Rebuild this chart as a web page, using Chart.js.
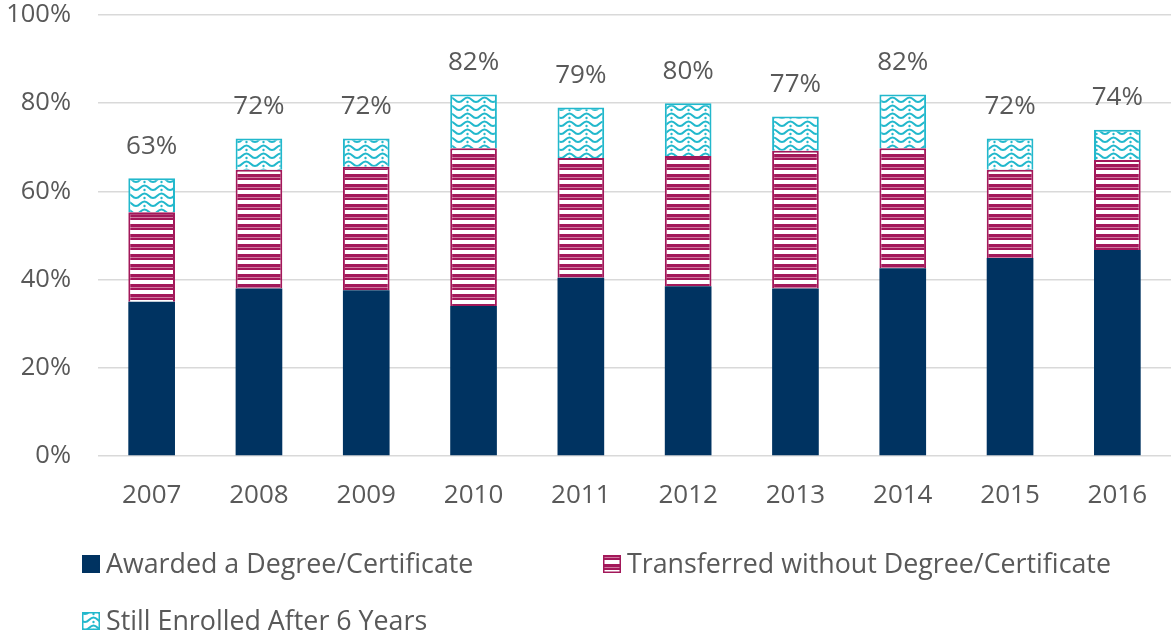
<!DOCTYPE html>
<html>
<head>
<meta charset="utf-8">
<script src="https://cdn.jsdelivr.net/npm/chart.js@4.4.1/dist/chart.umd.min.js"></script>
<style>
  html, body { margin: 0; padding: 0; background: #fff; }
  #wrap { width: 1172px; height: 634px; position: relative; }
</style>
</head>
<body>
<div id="wrap"><canvas id="outcomeChart"></canvas></div>
<script>
// --- dữ liệu ---
const years = ['2007', '2008', '2009', '2010', '2011', '2012', '2013', '2014', '2015', '2016'];
const awarded = [35, 38, 37.6, 34, 40.4, 38.5, 38, 42.6, 44.9, 46.7];
const transferred = [20.3, 26.9, 28, 35.8, 27.2, 29.5, 31.2, 27.2, 20, 20.4];
const stillEnrolled = [7.7, 7.1, 6.4, 12.2, 11.4, 12, 7.8, 12.2, 7.1, 6.9];
const totalLabels = ['63%', '72%', '72%', '82%', '79%', '80%', '77%', '82%', '72%', '74%'];
const yTicks = [0, 20, 40, 60, 80, 100];

const NAVY = '#003361';
const MAGENTA = '#A3185A';
const PINK = '#cf7aa0';
const CYAN = '#22B8CC';
const TEXT = '#595959';
const FONT = "'Open Sans', 'DejaVu Sans', sans-serif";

// Hoa văn sọc ngang (màu đỏ tía)
function stripePattern() {
    const c = document.createElement('canvas');
    c.width = 8; c.height = 10;
    const g = c.getContext('2d');
    g.fillStyle = MAGENTA;
    g.fillRect(0, 0, 8, 10);
    g.fillStyle = '#ffffff';
    g.fillRect(0, 0, 8, 4);
    g.fillStyle = PINK;
    g.fillRect(0, 7, 8, 1);
    return g.createPattern(c, 'repeat');
}

// Hoa văn gợn sóng (xanh ngọc)
function wavePattern() {
    const c = document.createElement('canvas');
    c.width = 17; c.height = 8;
    const g = c.getContext('2d');
    g.fillStyle = '#ffffff';
    g.fillRect(0, 0, 17, 8);
    g.strokeStyle = CYAN;
    g.lineWidth = 2;
    g.beginPath();
    g.moveTo(0, 6);
    g.bezierCurveTo(4, 6, 4.5, 1.5, 8.5, 1.5);
    g.bezierCurveTo(12.5, 1.5, 13, 6, 17, 6);
    g.stroke();
    g.fillStyle = CYAN;
    g.beginPath();
    g.arc(8.5, 6, 1.2, 0, Math.PI * 2);
    g.fill();
    return g.createPattern(c, 'repeat');
}

const stripes = stripePattern();
const waves = wavePattern();

// Nhãn tổng phía trên mỗi cột
const totalLabelPlugin = {
    id: 'totalLabels',
    afterDatasetsDraw(chart) {
        const ctx = chart.ctx;
        const meta = chart.getDatasetMeta(chart.data.datasets.length - 1);
        ctx.save();
        ctx.font = '26px ' + FONT;
        ctx.fillStyle = TEXT;
        ctx.textAlign = 'center';
        ctx.textBaseline = 'middle';
        meta.data.forEach((bar, i) => {
            ctx.fillText(totalLabels[i], bar.x, bar.y - 32);
        });
        ctx.restore();
    }
};

// Chú thích vẽ tay (dạng lưới 2 cột như Excel)
const legendItems = [
    { text: 'Awarded a Degree/Certificate', fill: NAVY, border: NAVY, col: 0, row: 0 },
    { text: 'Transferred without Degree/Certificate', fill: stripes, border: MAGENTA, col: 1, row: 0 },
    { text: 'Still Enrolled After 6 Years', fill: waves, border: CYAN, col: 0, row: 1 }
];
const gridLegendPlugin = {
    id: 'gridLegend',
    afterDraw(chart) {
        const ctx = chart.ctx;
        ctx.save();
        ctx.font = '26.8px ' + FONT;
        ctx.textBaseline = 'middle';
        legendItems.forEach(item => {
            const x = 82 + item.col * 521;
            const y = 564 + item.row * 57;
            ctx.fillStyle = item.fill;
            ctx.fillRect(x, y - 9, 18, 18);
            ctx.strokeStyle = item.border;
            ctx.lineWidth = 1.5;
            ctx.strokeRect(x + 0.75, y - 8.25, 16.5, 16.5);
            ctx.fillStyle = TEXT;
            ctx.fillText(item.text, x + 24, y + 1);
        });
        ctx.restore();
    }
};

new Chart(document.getElementById('outcomeChart'), {
    type: 'bar',
    data: {
        labels: years,
        datasets: [
            { label: 'Awarded a Degree/Certificate', data: awarded, backgroundColor: NAVY, borderColor: NAVY, borderWidth: 0 },
            { label: 'Transferred without Degree/Certificate', data: transferred, backgroundColor: stripes, borderColor: MAGENTA, borderWidth: 2 },
            { label: 'Still Enrolled After 6 Years', data: stillEnrolled, backgroundColor: waves, borderColor: CYAN, borderWidth: 2 }
        ]
    },
    options: {
        responsive: true,
        maintainAspectRatio: false,
        animation: false,
        categoryPercentage: 1,
        barPercentage: 0.435,
        layout: { padding: { left: 4, right: 1, top: 0, bottom: 110 } },
        plugins: {
            legend: { display: false },
            tooltip: { enabled: false }
        },
        scales: {
            x: {
                stacked: true,
                grid: { display: false, drawTicks: false },
                border: { display: false },
                ticks: { color: TEXT, font: { family: FONT, size: 26 }, padding: 24 },
                afterFit(axis) { axis.height = 68; }
            },
            y: {
                stacked: true,
                min: 0,
                max: 100,
                afterBuildTicks(axis) { axis.ticks = yTicks.map(v => ({ value: v })); },
                grid: { color: '#d9d9d9', lineWidth: 1.5, drawTicks: false },
                border: { display: false },
                ticks: {
                    color: TEXT,
                    font: { family: FONT, size: 25.5 },
                    padding: 27,
                    callback: v => v + '%'
                },
                afterFit(axis) {
                    axis.width = 94;
                    axis.paddingTop = 15;
                    axis.paddingBottom = 0;
                }
            }
        }
    },
    plugins: [totalLabelPlugin, gridLegendPlugin]
});
</script>
</body>
</html>
